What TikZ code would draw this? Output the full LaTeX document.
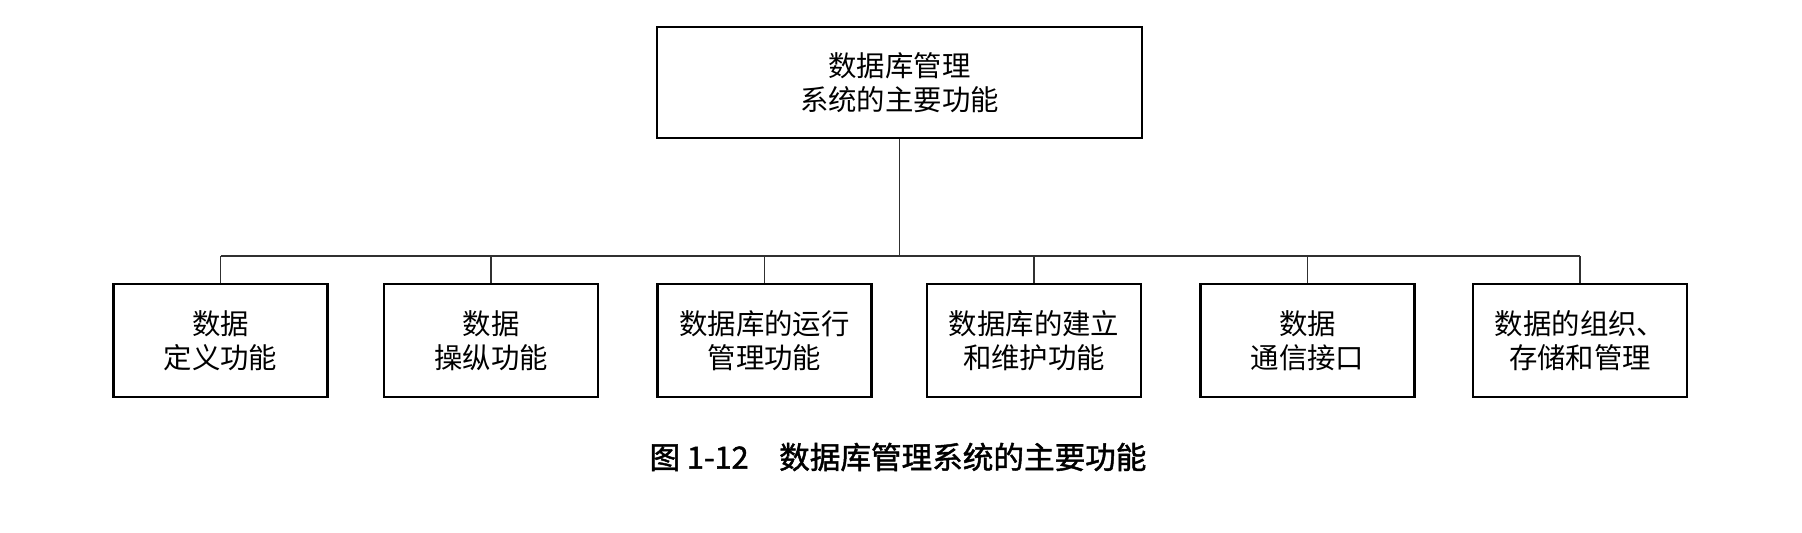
\documentclass[tikz,border=0pt]{standalone}
\usepackage{fontspec}
\usepackage{tikz}
\newfontfamily\cjk{Noto Sans CJK SC}
\newfontfamily\cjkcap[FakeBold=1.5]{Noto Sans CJK SC}
\definecolor{figline}{HTML}{303030}
\tikzset{
  funcbox/.style={draw=black, line width=1.2pt, align=center, inner sep=0pt,
    minimum width=107pt, minimum height=56.5pt, font=\cjk\fontsize{14.2}{17}\selectfont},
  rootbox/.style={funcbox, minimum width=242.5pt, minimum height=55.5pt},
  figlink/.style={draw=figline, line width=0.8pt}
}
\begin{document}
\begin{tikzpicture}[x=0.5pt,y=-0.5pt]
  \useasboundingbox (0,0) rectangle (1802,532);
  \def\yb{340.5}
  % root
  \node[rootbox] (root) at (899.5,82.5) {数据库管理\\系统的主要功能};
  % functions
  \node[funcbox] (f1) at (220.5,\yb) {数据\\定义功能};
  \node[funcbox] (f2) at (491,\yb) {数据\\操纵功能};
  \node[funcbox] (f3) at (764.5,\yb) {数据库的运行\\管理功能};
  \node[funcbox] (f4) at (1034,\yb) {数据库的建立\\和维护功能};
  \node[funcbox] (f5) at (1307.5,\yb) {数据\\通信接口};
  \node[funcbox] (f6) at (1580,\yb) {数据的组织、\\存储和管理};
  % bus
  \coordinate (bus) at (899.5,256);
  \draw[figlink] (root) -- (bus);
  \draw[figlink] (f1.north |- bus) -- (f6.north |- bus);
  \foreach \i in {1,...,6} {
    \draw[figlink] (f\i.north |- bus) -- (f\i.north);
  }
  % caption
  \node[font=\cjkcap\fontsize{15.3}{18}\selectfont] (caption) at (898,457) {图 1-12\quad 数据库管理系统的主要功能};
\end{tikzpicture}
\end{document}
